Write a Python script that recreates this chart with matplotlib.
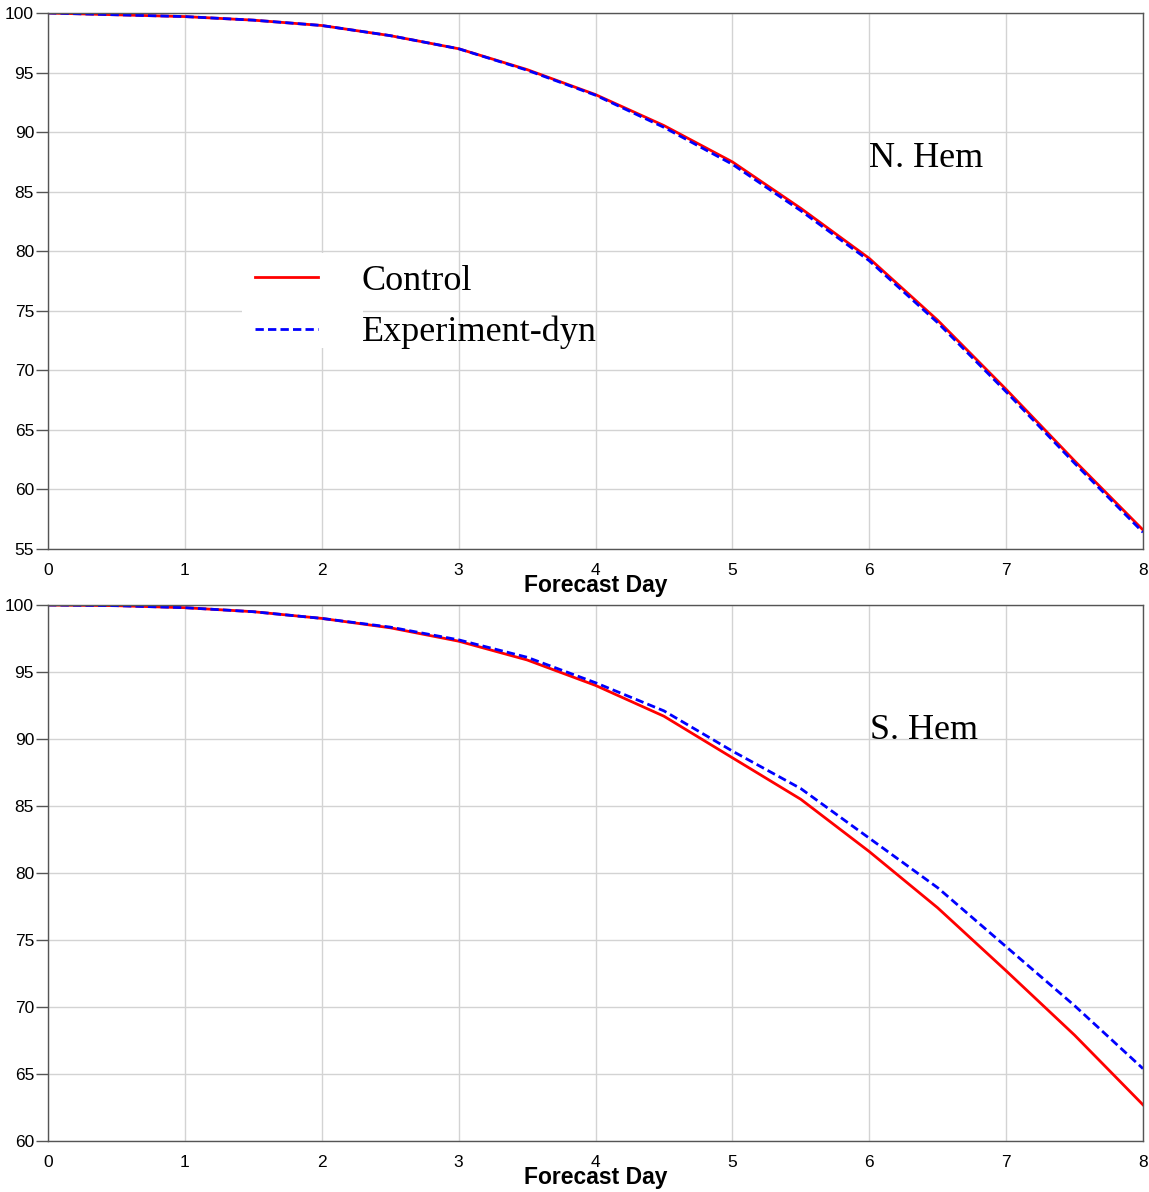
import matplotlib
matplotlib.use("Agg")
import matplotlib.pyplot as plt
from matplotlib.patches import Rectangle

days = [0, 0.5, 1, 1.5, 2, 2.5, 3, 3.5, 4, 4.5, 5, 5.5, 6, 6.5, 7, 7.5, 8]

nh_control = [100.0, 99.85, 99.7, 99.4, 98.95, 98.1, 97.0, 95.25, 93.15, 90.55, 87.5, 83.6, 79.4, 74.2, 68.4, 62.4, 56.6]
nh_exp     = [100.0, 99.85, 99.7, 99.4, 98.95, 98.1, 97.0, 95.2, 93.1, 90.4, 87.3, 83.4, 79.2, 74.0, 68.2, 62.2, 56.4]

sh_control = [100.0, 99.95, 99.8, 99.5, 99.0, 98.3, 97.3, 95.9, 94.0, 91.7, 88.6, 85.5, 81.6, 77.4, 72.7, 67.9, 62.7]
sh_exp     = [100.0, 99.95, 99.8, 99.5, 99.0, 98.35, 97.4, 96.1, 94.2, 92.1, 89.1, 86.3, 82.6, 78.9, 74.5, 70.1, 65.4]

xticks = [0, 1, 2, 3, 4, 5, 6, 7, 8]
nh_yticks = [55, 60, 65, 70, 75, 80, 85, 90, 95, 100]
sh_yticks = [60, 65, 70, 75, 80, 85, 90, 95, 100]

sans = ["Liberation Sans", "DejaVu Sans"]
serif = ["Liberation Serif", "DejaVu Serif"]

fig = plt.figure(figsize=(11.49, 11.92), dpi=100)
W, H = 1149, 1192

def make_ax(top_px, bot_px):
    l = 48 / W
    r = 1143 / W
    b = 1 - bot_px / H
    t = 1 - top_px / H
    return fig.add_axes([l, b, r - l, t - b])

ax1 = make_ax(13, 549)
ax2 = make_ax(605, 1141)

def style(ax, yticks, ylim):
    ax.set_xlim(0, 8)
    ax.set_ylim(*ylim)
    ax.set_xticks(xticks)
    ax.set_yticks(yticks)
    ax.grid(True, color="#d3d3d3", linewidth=1.0)
    ax.set_axisbelow(True)
    for s in ax.spines.values():
        s.set_color("#555555")
        s.set_linewidth(1.0)
    ax.tick_params(axis="y", direction="out", length=9, width=1, color="#555555",
                   labelsize=12.5, pad=1)
    ax.tick_params(axis="x", direction="out", length=0, labelsize=12.5, pad=10)
    for lab in ax.get_xticklabels() + ax.get_yticklabels():
        lab.set_family(sans)
    ax.set_xlabel("Forecast Day", fontsize=16.5, fontweight="bold",
                  family=sans, labelpad=-3)

style(ax1, nh_yticks, (55, 100))
style(ax2, sh_yticks, (60, 100))

l1, = ax1.plot(days, nh_control, color="red", linewidth=2, solid_joinstyle="round")
l2, = ax1.plot(days, nh_exp, color="blue", linewidth=2, linestyle=(0, (3, 1.5)))
ax2.plot(days, sh_control, color="red", linewidth=2)
ax2.plot(days, sh_exp, color="blue", linewidth=2, linestyle=(0, (3, 1.5)))

ax1.text(0.750, 0.729, "N. Hem", transform=ax1.transAxes, fontsize=26,
         family=serif, va="center", ha="left")
ax2.text(0.751, 0.765, "S. Hem", transform=ax2.transAxes, fontsize=26,
         family=serif, va="center", ha="left")

# white patch behind the legend handles (grid hidden only there)
ax1.add_patch(Rectangle((0.177, 0.375), 0.1105, 0.177, transform=ax1.transAxes,
                        facecolor="white", edgecolor="none", zorder=1))

leg = ax1.legend([l1, l2], ["Control", "Experiment-dyn"],
                 loc="center left", bbox_to_anchor=(0.159, 0.452),
                 frameon=False,
                 prop={"family": serif, "size": 26},
                 handlelength=1.75, handletextpad=1.22, labelspacing=0.5)

fig.savefig("out.png", dpi=100)
